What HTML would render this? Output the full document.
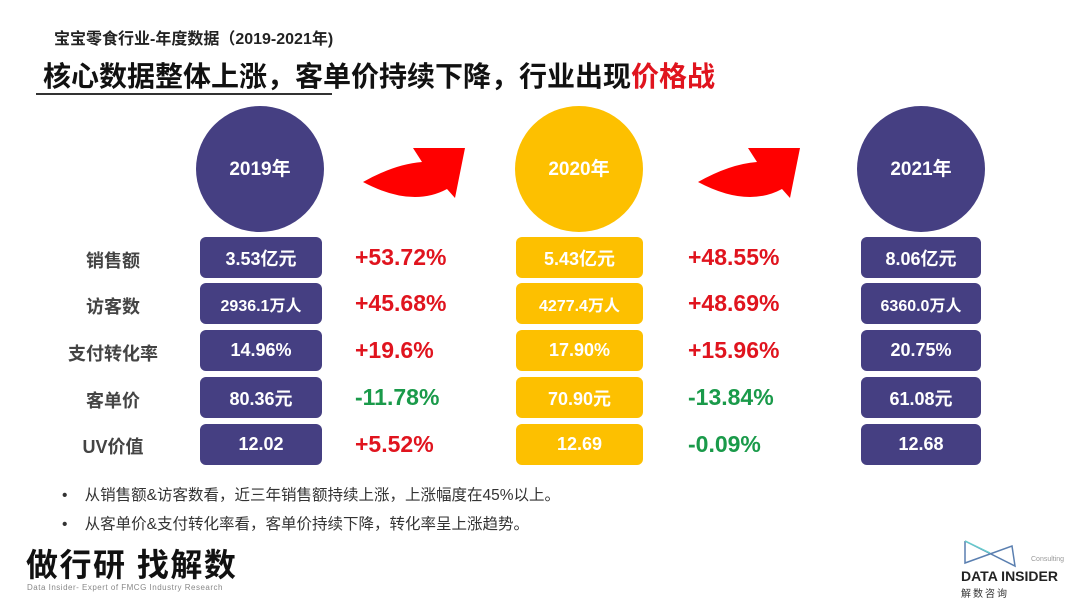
<!DOCTYPE html>
<html><head><meta charset="utf-8"><style>
*{margin:0;padding:0;box-sizing:border-box}
body{width:1080px;height:607px;background:#fff;position:relative;overflow:hidden;font-family:"Liberation Sans","Noto Sans CJK SC",sans-serif}
.a{position:absolute;white-space:nowrap}
.circ{position:absolute;width:128px;height:126px;border-radius:50%;color:#fff;font-weight:bold;font-size:19px;display:flex;align-items:center;justify-content:center;padding-bottom:3px}
.box{position:absolute;height:41px;border-radius:6px;color:#fff;font-weight:bold;font-size:18px;display:flex;align-items:center;justify-content:center}
.n{background:#453f82}.y{background:#fdc000}
.lab{position:absolute;width:140px;left:43px;text-align:center;font-size:18px;font-weight:bold;color:#444}
.pc{position:absolute;font-size:23px;font-weight:bold}
.r{color:#e0141e}.g{color:#1a9a4a}
</style></head><body>
<div class="a" style="left:54px;top:25px;font-size:16px;font-weight:bold;color:#222">宝宝零食行业-年度数据（2019-2021年)</div>
<div class="a" style="left:43px;top:55px;font-size:28px;font-weight:bold;color:#111">核心数据整体上涨，客单价持续下降，行业出现<span style="color:#e0141e">价格战</span></div>
<div class="a" style="left:36px;top:93px;width:296px;height:2px;background:#333"></div>

<div class="circ n" style="left:196px;top:106px">2019年</div>
<div class="circ y" style="left:515px;top:106px">2020年</div>
<div class="circ n" style="left:857px;top:106px">2021年</div>

<svg class="a" style="left:0;top:0" width="1080" height="240">
<path d="M363,182 Q395,164 422,162 L413,148 L465,148 L455,198 L447,189 Q412,208 363,182 Z" fill="#f00"/>
<path d="M698,182 Q730,164 757,162 L748,148 L800,148 L790,198 L782,189 Q747,208 698,182 Z" fill="#f00"/>
</svg>

<div class="lab" style="top:247px">销售额</div>
<div class="lab" style="top:293px">访客数</div>
<div class="lab" style="top:340px">支付转化率</div>
<div class="lab" style="top:387px">客单价</div>
<div class="lab" style="top:433px">UV价值</div>

<div class="box n" style="left:200px;width:122px;top:237px">3.53亿元</div>
<div class="box n" style="left:200px;width:122px;top:283px;font-size:16px">2936.1万人</div>
<div class="box n" style="left:200px;width:122px;top:330px">14.96%</div>
<div class="box n" style="left:200px;width:122px;top:377px">80.36元</div>
<div class="box n" style="left:200px;width:122px;top:424px">12.02</div>

<div class="pc r" style="left:355px;top:244px">+53.72%</div>
<div class="pc r" style="left:355px;top:290px">+45.68%</div>
<div class="pc r" style="left:355px;top:337px">+19.6%</div>
<div class="pc g" style="left:355px;top:384px">-11.78%</div>
<div class="pc r" style="left:355px;top:431px">+5.52%</div>

<div class="box y" style="left:516px;width:127px;top:237px">5.43亿元</div>
<div class="box y" style="left:516px;width:127px;top:283px;font-size:16px">4277.4万人</div>
<div class="box y" style="left:516px;width:127px;top:330px">17.90%</div>
<div class="box y" style="left:516px;width:127px;top:377px">70.90元</div>
<div class="box y" style="left:516px;width:127px;top:424px">12.69</div>

<div class="pc r" style="left:688px;top:244px">+48.55%</div>
<div class="pc r" style="left:688px;top:290px">+48.69%</div>
<div class="pc r" style="left:688px;top:337px">+15.96%</div>
<div class="pc g" style="left:688px;top:384px">-13.84%</div>
<div class="pc g" style="left:688px;top:431px">-0.09%</div>

<div class="box n" style="left:861px;width:120px;top:237px">8.06亿元</div>
<div class="box n" style="left:861px;width:120px;top:283px;font-size:16px">6360.0万人</div>
<div class="box n" style="left:861px;width:120px;top:330px">20.75%</div>
<div class="box n" style="left:861px;width:120px;top:377px">61.08元</div>
<div class="box n" style="left:861px;width:120px;top:424px">12.68</div>

<div class="a" style="left:62px;top:483px;font-size:15.5px;color:#333">•&nbsp;&nbsp;&nbsp;&nbsp;从销售额&amp;访客数看，近三年销售额持续上涨，上涨幅度在45%以上。</div>
<div class="a" style="left:62px;top:512px;font-size:15.5px;color:#333">•&nbsp;&nbsp;&nbsp;&nbsp;从客单价&amp;支付转化率看，客单价持续下降，转化率呈上涨趋势。</div>

<div class="a" style="left:26px;top:540px;font-size:32px;font-weight:bold;color:#111;letter-spacing:1.5px">做行研 找解数</div>
<div class="a" style="left:27px;top:583px;font-size:8px;color:#888;letter-spacing:0.5px">Data Insider- Expert of FMCG Industry Research</div>

<svg class="a" style="left:960px;top:538px" width="70" height="35">
<path d="M5,3 L5,25 L52,8 L55,28 L5,3" fill="none" stroke="#5a7fb0" stroke-width="1.5"/>
<path d="M5,3 L30,15" stroke="#6cc" stroke-width="1.5"/>
</svg>
<div class="a" style="left:1031px;top:556px;font-size:7px;color:#999">Consulting</div>
<div class="a" style="left:961px;top:568px;font-size:14px;color:#222;font-weight:bold">DATA INSIDER</div>
<div class="a" style="left:961px;top:585px;font-size:10px;color:#333;letter-spacing:2px">解数咨询</div>
</body></html>
